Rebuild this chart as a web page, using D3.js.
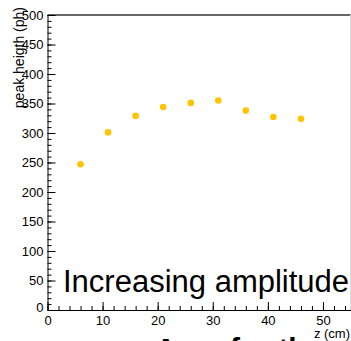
<!DOCTYPE html>
<html>
<head>
<meta charset="utf-8">
<script src="https://cdn.jsdelivr.net/npm/d3@7"></script>
<style>
body { margin: 0; background: #fff; }
svg { display: block; font-family: "Liberation Sans", Arial, Helvetica, sans-serif; }
.axis path, .axis line { stroke: #000; }
.axis text { font-size: 13px; fill: #000; }
</style>
</head>
<body>
<svg class="chart" width="351" height="341"></svg>
<script>
// z position (cm) and peak height (ph)
var zValues = [6, 11, 16, 21, 26, 31, 36, 41, 46];
var peakValues = [247, 301, 329, 344, 351, 355, 338, 327, 324];
var xMajorTicks = [0, 10, 20, 30, 40, 50];
var yMajorTicks = [0, 50, 100, 150, 200, 250, 300, 350, 400, 450, 500];

var plotLeft = 47.5, plotRight = 350.5, plotTop = 15, plotBottom = 310;

var svg = d3.select(".chart");

var x = d3.scaleLinear().domain([0, 55]).range([plotLeft, plotRight]);
var y = d3.scaleLinear().domain([0, 500]).range([plotBottom, plotTop]);

// frame
svg.append("line")
    .attr("x1", plotLeft).attr("x2", plotRight)
    .attr("y1", plotTop).attr("y2", plotTop)
    .attr("stroke", "#333").attr("stroke-width", 1.4);
svg.append("line")
    .attr("x1", plotRight).attr("x2", plotRight)
    .attr("y1", plotTop).attr("y2", plotBottom)
    .attr("stroke", "#ddd");

// minor ticks
svg.append("g")
    .attr("class", "axis")
    .attr("transform", "translate(" + plotLeft + ",0)")
    .call(d3.axisLeft(y).tickValues(d3.range(0, 501, 10)).tickSize(-4).tickFormat(""))
    .select(".domain").remove();
svg.append("g")
    .attr("class", "axis")
    .attr("transform", "translate(0," + plotBottom + ")")
    .call(d3.axisBottom(x).tickValues(d3.range(0, 55, 2)).tickSize(-4).tickFormat(""))
    .select(".domain").remove();

// major axes
var yAxis = svg.append("g")
    .attr("class", "axis")
    .attr("transform", "translate(" + plotLeft + ",0)")
    .call(d3.axisLeft(y).tickValues(yMajorTicks).tickSizeInner(-8).tickSizeOuter(0).tickPadding(4));
yAxis.selectAll("text").filter(function(d) { return d === 0; }).attr("dy", "0.1em");

svg.append("g")
    .attr("class", "axis")
    .attr("transform", "translate(0," + plotBottom + ")")
    .call(d3.axisBottom(x).tickValues(xMajorTicks).tickSizeInner(-8).tickSizeOuter(0).tickPadding(6));

// axis titles
svg.append("text")
    .attr("transform", "translate(24,7) rotate(-90)")
    .attr("text-anchor", "end")
    .attr("font-size", 14)
    .text("peak heigth (ph)");

svg.append("text")
    .attr("x", 350)
    .attr("y", 338)
    .attr("text-anchor", "end")
    .attr("font-size", 13)
    .text("z (cm)");

// points
svg.selectAll(".pt")
    .data(zValues)
    .enter()
    .append("circle")
    .attr("class", "pt")
    .attr("cx", function(d) { return x(d); })
    .attr("cy", function(d, i) { return y(peakValues[i]); })
    .attr("r", 3.3)
    .attr("fill", "#ffc400");

svg.append("text")
    .attr("x", 63)
    .attr("y", 292)
    .attr("font-size", 31)
    .text("Increasing amplitude");

svg.append("text")
    .attr("x", 155)
    .attr("y", 359)
    .attr("font-size", 30)
    .attr("font-weight", "bold")
    .text("Area for the");
</script>
</body>
</html>
